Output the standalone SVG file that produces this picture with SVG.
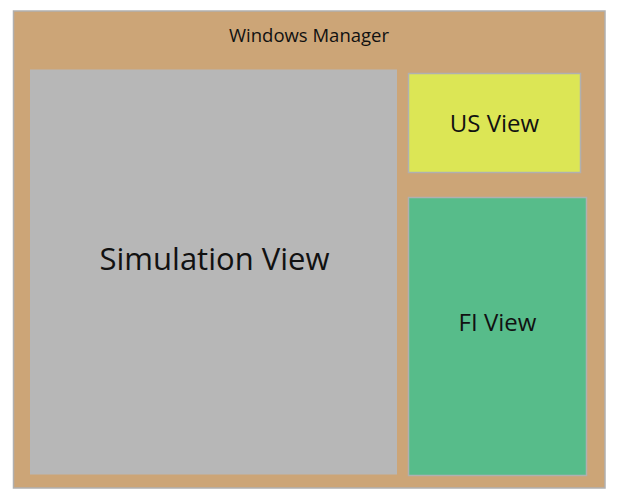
<svg xmlns="http://www.w3.org/2000/svg" width="620" height="495" viewBox="0 0 620 495">
<style>
text{font-family:"Open Sans","Noto Sans",sans-serif;fill:#111;text-anchor:middle}
.box{stroke:#b0b0b0;stroke-width:1.5}
</style>
<rect width="620" height="495" fill="#fff"/>
<g id="windows-manager">
<rect class="box" x="13.5" y="11" width="591.5" height="477" fill="#cca577" stroke="#c4c4c4"/>
<text x="309" y="42" font-size="18.5">Windows Manager</text>
</g>
<g id="simulation-view">
<rect x="30" y="69.5" width="367" height="405" fill="#b7b7b7"/>
<text x="214.5" y="270" font-size="31">Simulation View</text>
</g>
<g id="us-view">
<rect class="box" x="408.5" y="73.5" width="172" height="99" fill="#dce655"/>
<text x="494.5" y="132" font-size="24">US View</text>
</g>
<g id="fi-view">
<rect class="box" x="408.5" y="197.5" width="178" height="278" fill="#57bc8a"/>
<text x="497.5" y="331" font-size="24">FI View</text>
</g>
<g id="connectors"/>
</svg>
